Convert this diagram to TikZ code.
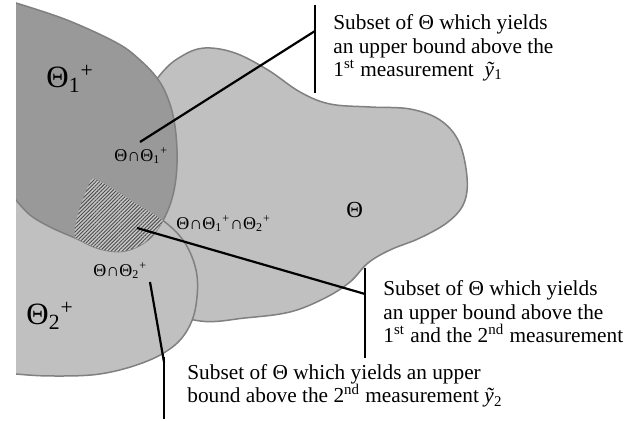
\documentclass[tikz,border=0pt]{standalone}
\usepackage{fontspec}
\setmainfont{Liberation Serif}
\usepackage{tikz}
\usetikzlibrary{patterns.meta}
\definecolor{setlight}{HTML}{C0C0C0}
\definecolor{setdark}{HTML}{999999}
\definecolor{setedge}{HTML}{808080}
\def\pathTheta{plot[smooth cycle, tension=0.6] coordinates {(160,75) (182,56) (205,48) (235,53) (268,70) (300,92) (330,104) (370,107) (410,109) (440,120) (459,142) (467,177) (464,203) (448,222) (420,238) (390,250) (368,263) (350,282) (325,298) (290,312) (245,318) (200,321) (150,305) (100,275) (78,245) (76,222) (92,178) (122,128)}}
\def\pathThetaTwo{plot[smooth, tension=0.6] coordinates {(30,162) (92,178) (135,203) (165,222) (185,243) (196,270) (197,297) (191,323) (175,345) (145,362) (100,374) (50,376) (16,374)} -- (-10,374) -- (-10,155) -- cycle}
\def\pathThetaOne{plot[smooth, tension=0.6] coordinates {(16,3) (67,20) (117,43) (140,60) (157,78) (167,96) (174,120) (177,150) (176,178) (171,202) (162,222) (148,240) (125,251) (100,249) (75,238) (50,227) (30,215) (16,200)} -- (-10,195) -- (-10,-5) -- cycle}
\begin{document}
\begin{tikzpicture}[x=0.5pt, y=-0.5pt,
    region/.style={draw=setedge, line width=0.75pt},
    lead/.style={line width=1.1pt},
    note/.style={inner sep=0, align=left, anchor=west, font=\fontsize{10.65}{11.75}\selectfont},
    biglbl/.style={inner sep=0, anchor=base west, font=\fontsize{15.5}{17}\selectfont},
    smalllbl/.style={inner sep=0, anchor=base west, font=\fontsize{9}{10}\selectfont}
  ]
    \useasboundingbox (0,0) rectangle (639,421);
    \begin{scope}
      \clip (16,0) rectangle (639,421);
      \fill[setlight] \pathTheta;
      \draw[region] \pathTheta;
      \fill[setlight] \pathThetaTwo;
      \draw[region] \pathThetaTwo;
      \fill[setdark] \pathThetaOne;
      \draw[region] \pathThetaOne;
      \begin{scope}
        \clip \pathTheta;
        \clip \pathThetaTwo;
        \fill[gray!45] \pathThetaOne;
        \fill[pattern={Lines[angle=45, distance=1.3pt, line width=0.45pt]}, pattern color=black!70] \pathThetaOne;
      \end{scope}
    \end{scope}
    \node[biglbl] (one) at (46,88) {Θ\textsubscript{1}\textsuperscript{+}};
    \node[biglbl] (two) at (26,325) {Θ\textsubscript{2}\textsuperscript{+}};
    \node[biglbl, font=\fontsize{11.5}{13}\selectfont] (all) at (346,218) {Θ};
    \node[smalllbl] (capone) at (114,162) {Θ∩Θ\textsubscript{1}\textsuperscript{+}};
    \node[smalllbl] (captwo) at (93,277) {Θ∩Θ\textsubscript{2}\textsuperscript{+}};
    \node[smalllbl] (capboth) at (176,230) {Θ∩Θ\textsubscript{1}\textsuperscript{+}∩Θ\textsubscript{2}\textsuperscript{+}};
    \node[note] (noteone) at (333,48) {Subset of Θ which yields\\an upper bound above the\\1\textsuperscript{st} measurement \ \textit{ỹ}\textsubscript{1}};
    \node[note] (noteboth) at (383,312) {Subset of Θ which yields\\an upper bound above the\\1\textsuperscript{st} and the 2\textsuperscript{nd} measurement};
    \node[note] (notetwo) at (187,386) {Subset of Θ which yields an upper\\bound above the 2\textsuperscript{nd} measurement \textit{ỹ}\textsubscript{2}};
    \coordinate (inone) at (140,142);
    \coordinate (inboth) at (137,228);
    \coordinate (intwo) at (150,282);
    \coordinate (barone) at (315,31);
    \coordinate (barboth) at (365,294);
    \coordinate (bartwo) at (164,362);
    \draw[lead] (inone) -- (barone);
    \draw[lead] (barone |- 0,5) -- (barone |- 0,93);
    \draw[lead] (inboth) -- (barboth);
    \draw[lead] (barboth |- 0,268) -- (barboth |- 0,358);
    \draw[lead] (intwo) -- (bartwo);
    \draw[lead] (bartwo |- 0,357) -- (bartwo |- 0,419);
  \end{tikzpicture}
\end{document}
